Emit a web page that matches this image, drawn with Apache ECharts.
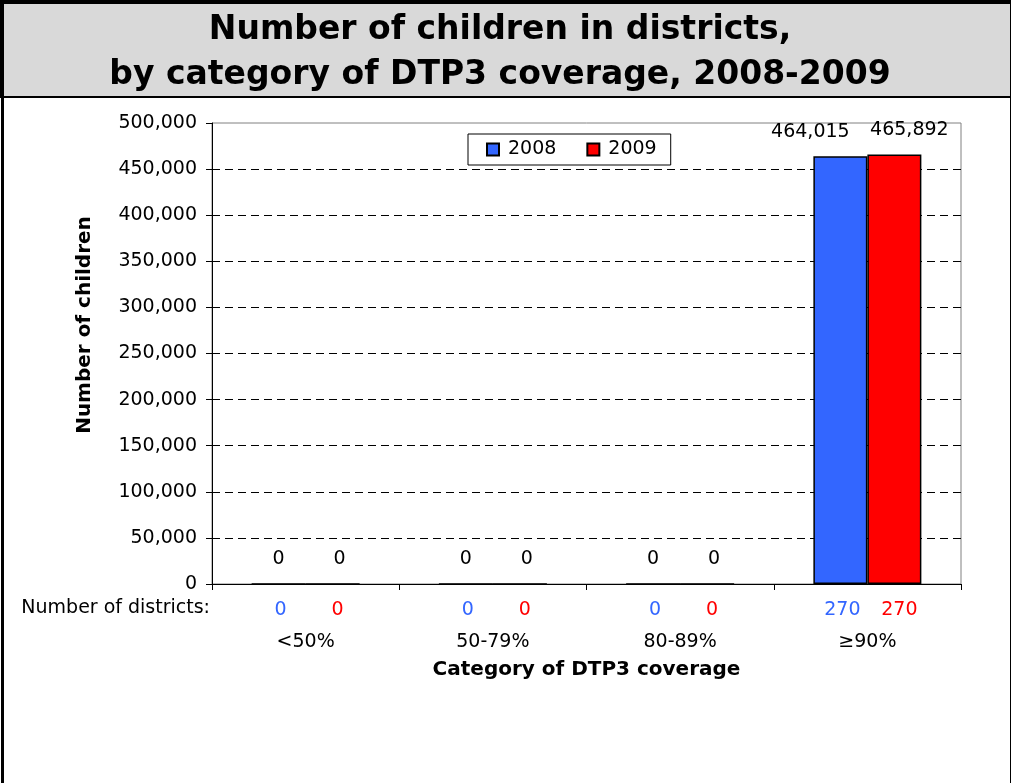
<!DOCTYPE html>
<html>
<head>
<meta charset="utf-8">
<script src="https://cdn.jsdelivr.net/npm/echarts@6/dist/echarts.min.js"></script>
<style>
html,body{margin:0;padding:0;background:#fff;}
#chart{width:1011px;height:783px;}
</style>
</head>
<body>
<div id="chart"></div>
<script>
const categories = ['<50%', '50-79%', '80-89%', '\u226590%'];
const children2008 = [0, 0, 0, 464015];
const children2009 = [0, 0, 0, 465892];
const districts2008 = [0, 0, 0, 270];
const districts2009 = [0, 0, 0, 270];
const yTicks = [0, 50000, 100000, 150000, 200000, 250000, 300000, 350000, 400000, 450000, 500000];

const FONT = 'DejaVu Sans, Verdana, sans-serif';
const fmt = v => Number(v).toLocaleString('en-US');

// split line colours: all dashed black except the top one (plot border shows there)
const splitColors = yTicks.map((t, i) => i === yTicks.length - 1 ? 'rgba(0,0,0,0)' : '#000');

const chart = echarts.init(document.getElementById('chart'));
chart.setOption({
  backgroundColor: '#fff',
  animation: false,
  textStyle: { fontFamily: FONT },
  graphic: [
    { type: 'rect', left: 0, top: 0, shape: { width: 1011, height: 96 },
      style: { fill: '#d9d9d9', stroke: '#000', lineWidth: 2 }, z: 0 },
    { type: 'rect', left: 0, top: 0, shape: { width: 1009, height: 790 },
      style: { fill: 'none', stroke: '#000', lineWidth: 3 }, z: 0 },
    { type: 'text', x: 500, y: 8,
      style: { text: 'Number of children in districts,\nby category of DTP3 coverage, 2008-2009',
        fontFamily: FONT, fontWeight: 'bold', fontSize: 33, lineHeight: 45, align: 'center', fill: '#000' } },
    { type: 'text', x: 210, y: 608,
      style: { text: 'Number of districts:', fontFamily: FONT, fontSize: 19, fill: '#000',
        align: 'right', verticalAlign: 'middle' } },
    { type: 'text', x: 85, y: 325, rotation: Math.PI / 2,
      style: { text: 'Number of children', fontFamily: FONT, fontSize: 20, fontWeight: 'bold', fill: '#000',
        align: 'center', verticalAlign: 'middle' } }
  ],
  legend: {
    left: 468, top: 134,
    data: ['2008', '2009'],
    itemWidth: 12, itemHeight: 12, itemGap: 30,
    borderColor: '#000', borderWidth: 1,
    padding: [6, 14, 6, 18],
    textStyle: { fontFamily: FONT, fontSize: 19, color: '#000', padding: [0, 0, 0, 4] },
    icon: 'rect'
  },
  grid: { left: 212, right: 50, top: 123, bottom: 199, show: true, borderColor: '#808080', borderWidth: 1 },
  xAxis: {
    type: 'category',
    data: categories,
    name: 'Category of DTP3 coverage',
    nameLocation: 'middle',
    nameGap: 76,
    nameTextStyle: { fontFamily: FONT, fontSize: 20, fontWeight: 'bold', color: '#000' },
    axisLine: { lineStyle: { color: '#000', width: 1 } },
    axisTick: { show: true, alignWithLabel: false, length: 6, lineStyle: { color: '#000' } },
    axisLabel: {
      margin: 10,
      interval: 0,
      formatter: (val, idx) => '{s|}{b|' + districts2008[idx] + '}{r|' + districts2009[idx] + '}\n{c|' + val + '}',
      rich: {
        s: { width: 7, lineHeight: 32 },
        b: { color: '#3366FF', fontSize: 19, fontFamily: FONT, width: 57, align: 'center', lineHeight: 32 },
        r: { color: '#FF0000', fontSize: 19, fontFamily: FONT, width: 57, align: 'center', lineHeight: 32 },
        c: { color: '#000', fontSize: 19, fontFamily: FONT, lineHeight: 32, align: 'center' }
      }
    }
  },
  yAxis: {
    type: 'value',
    min: yTicks[0],
    max: yTicks[yTicks.length - 1],
    interval: yTicks[1] - yTicks[0],
    axisLine: { show: true, lineStyle: { color: '#000' } },
    axisTick: { show: true, inside: false, length: 6, lineStyle: { color: '#000' } },
    axisLabel: { formatter: v => fmt(v), fontSize: 19, fontFamily: FONT, color: '#000', margin: 15 },
    splitLine: { show: true, lineStyle: { color: splitColors, type: [8, 5], width: 1 } }
  },
  series: [
    {
      name: '2008', type: 'bar', data: children2008,
      barWidth: 54, barGap: '0%',
      itemStyle: { color: '#3366FF', borderColor: '#000', borderWidth: 1.5 },
      label: { show: true, position: 'top', distance: 15, formatter: p => fmt(p.value),
        fontSize: 19, fontFamily: FONT, color: '#000' },
      labelLayout: p => (p.labelRect.width > 60 ? { dx: -30 } : {})
    },
    {
      name: '2009', type: 'bar', data: children2009,
      barWidth: 54, barGap: '0%',
      itemStyle: { color: '#FF0000', borderColor: '#000', borderWidth: 1.5 },
      label: { show: true, position: 'top', distance: 15, formatter: p => fmt(p.value),
        fontSize: 19, fontFamily: FONT, color: '#000' },
      labelLayout: p => (p.labelRect.width > 60 ? { dx: 15 } : { dx: 7 })
    }
  ]
});
</script>
</body>
</html>
